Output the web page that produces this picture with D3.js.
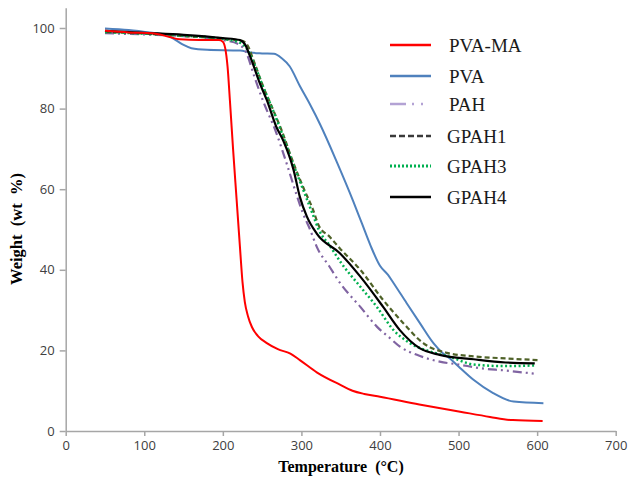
<!DOCTYPE html>
<html><head><meta charset="utf-8">
<script src="https://cdn.jsdelivr.net/npm/d3@7"></script>
<style>body{margin:0;background:#fff}svg{display:block}</style>
</head><body>
<svg id="c" width="629" height="482"></svg>
<script>
const seriesNames = ["PVA-MA","PVA","PAH","GPAH1","GPAH3","GPAH4"];
const xTicks = [0,100,200,300,400,500,600,700];
const yTicks = [0,20,40,60,80,100];

const pvaMA = [[50,99.3],[80,98.9],[110,98.7],[130,97.9],[145,97.2],[170,97],[195,97],[200,96.6],[203,95],[206,90.4],[209,82],[213,70],[217.5,57.5],[222,45],[225,37],[228,32],[232,28.5],[237,25.8],[245,23.5],[256,21.8],[270,20.3],[286,19.2],[298,17.6],[320,14.5],[349,11.5],[365,10],[380,9.2],[400,8.5],[450,6.6],[502,4.8],[540,3.5],[569,2.7],[607,2.5]];
const pva = [[50,99.9],[80,99.5],[110,98.8],[128,98.3],[140,97],[150,95.8],[160,95],[180,94.6],[222,94.4],[235,93.9],[250,93.7],[265,93.6],[275,92.5],[285,90.5],[298,85.6],[311,81],[324,76],[345,66.8],[366,57],[377,51.5],[388,46],[400,41],[410,38.8],[417,36.8],[434,31.7],[451,26.7],[468,21.8],[480,19.3],[489,18],[500,16],[519,12.7],[544,9.4],[570,7.3],[608,6.9]];
const pah = [[50,98.7],[100,98.4],[150,98],[200,97],[220,96],[230,93.8],[240,88],[251,82],[268,74],[281,66.5],[294,58.5],[302,54],[311,50],[320,45.5],[335,41],[350,36.5],[375,30.8],[396,25.9],[413,23],[425,21],[447,18.9],[476,17.2],[500,16.5],[527,15.6],[560,15],[597,14.2]];
const gpah1 = [[50,99],[100,98.6],[150,98],[200,97.3],[225,96.8],[232,95.5],[239,92],[251.5,85.4],[264,79.7],[275,74.5],[290,66.4],[302,60.6],[315,54.8],[322,51],[336,48.2],[349,45.3],[375,40],[404,32.5],[430,26.7],[455,21.8],[485,19.4],[520,18.5],[560,18],[601,17.6]];
const gpah3 = [[50,99],[100,98.6],[150,98.1],[200,97.3],[220,96.5],[230,95],[238,92],[251,85.5],[264,79.5],[275,74],[290,66],[302,60],[314,54],[322,50],[336,46],[351,41.6],[375,35.8],[396,30.8],[417,25.1],[438,21.8],[464,19.7],[489,18.4],[519,16.5],[560,16.1],[599,16.3]];
const gpah4 = [[50,99.3],[100,98.8],[150,98.3],[200,97.5],[222,97],[228,96],[234.6,93],[247,86.3],[256,82.1],[268,75.5],[277,72],[290,64.8],[298,58.1],[307,53.2],[319.5,49],[349,44.1],[375,38.3],[404,30.8],[425,25.1],[451,20.5],[476,18.9],[519,17.8],[560,17],[597,16.8]];

const styles = [
  {color:"#ff0000", legend:"#ff0000", w:2, dash:null, ldash:null},
  {color:"#4f81bd", legend:"#4f81bd", w:2, dash:null, ldash:null},
  {color:"#8064a2", legend:"#b3a2d4", w:2.2, dash:"9,4,2,4,2,4", ldash:"16,6,2,7,2,8"},
  {color:"#4f6228", legend:"#3a3a3a", w:2.2, dash:"5,3", ldash:"6,3"},
  {color:"#00b050", legend:"#00b050", w:2.5, dash:"2,2.5", ldash:"2,2"},
  {color:"#000000", legend:"#000000", w:2.2, dash:null, ldash:null}
];
const data = [pvaMA, pva, pah, gpah1, gpah3, gpah4];

const svg = d3.select("#c");
const x = d3.scaleLinear().domain([0,700]).range([65.7,615.7]);
const y = d3.scaleLinear().domain([0,105]).range([431,7.85]);
const axisColor = "#a6a6a6";

const gx = svg.append("g").attr("transform","translate(0,431)")
  .call(d3.axisBottom(x).tickValues(xTicks).tickSize(5).tickPadding(5).tickSizeOuter(0));
const gy = svg.append("g").attr("transform","translate(65.7,0)")
  .call(d3.axisLeft(y).tickValues(yTicks).tickSize(6).tickPadding(5).tickSizeOuter(0));
[gx,gy].forEach(g=>{
  g.selectAll("path,line").attr("stroke",axisColor).attr("stroke-width",1.5);
  g.selectAll("text").attr("fill","#404040").style("font-family","'Open Sans',sans-serif").style("font-size","13px");
});

const line = d3.line().x(d=>x(d[0])).y(d=>y(d[1])).curve(d3.curveMonotoneX);
const order = [1,2,3,4,5,0];
order.forEach(i=>{
  svg.append("path").datum(data[i]).attr("d",line)
    .attr("fill","none").attr("stroke",styles[i].color)
    .attr("stroke-width",styles[i].w)
    .attr("stroke-dasharray",styles[i].dash);
});

// legend
const legY = [45,76,104,136,166,197];
seriesNames.forEach((n,i)=>{
  const s = styles[i];
  svg.append("line").attr("x1",390).attr("x2",431).attr("y1",legY[i]).attr("y2",legY[i])
    .attr("stroke",s.legend).attr("stroke-width",s.w+0.3).attr("stroke-dasharray",s.ldash);
  svg.append("text").attr("x",i<3?449:447).attr("y",legY[i]).attr("dy","0.35em")
    .attr("fill","#1a1a1a").style("font-family","'Liberation Serif',serif").style("font-size","19px")
    .text(n);
});

svg.append("text").attr("x",341).attr("y",472).attr("text-anchor","middle")
  .style("font-family","'Liberation Serif',serif").style("font-weight","bold").style("font-size","16px")
  .style("white-space","pre").text("Temperature  (°C)");
svg.append("text").attr("transform","translate(22,229) rotate(-90)").attr("text-anchor","middle")
  .style("font-family","'Liberation Serif',serif").style("font-weight","bold").style("font-size","16.5px")
  .style("white-space","pre").text("Weight  (wt  %)");
</script>
</body></html>
